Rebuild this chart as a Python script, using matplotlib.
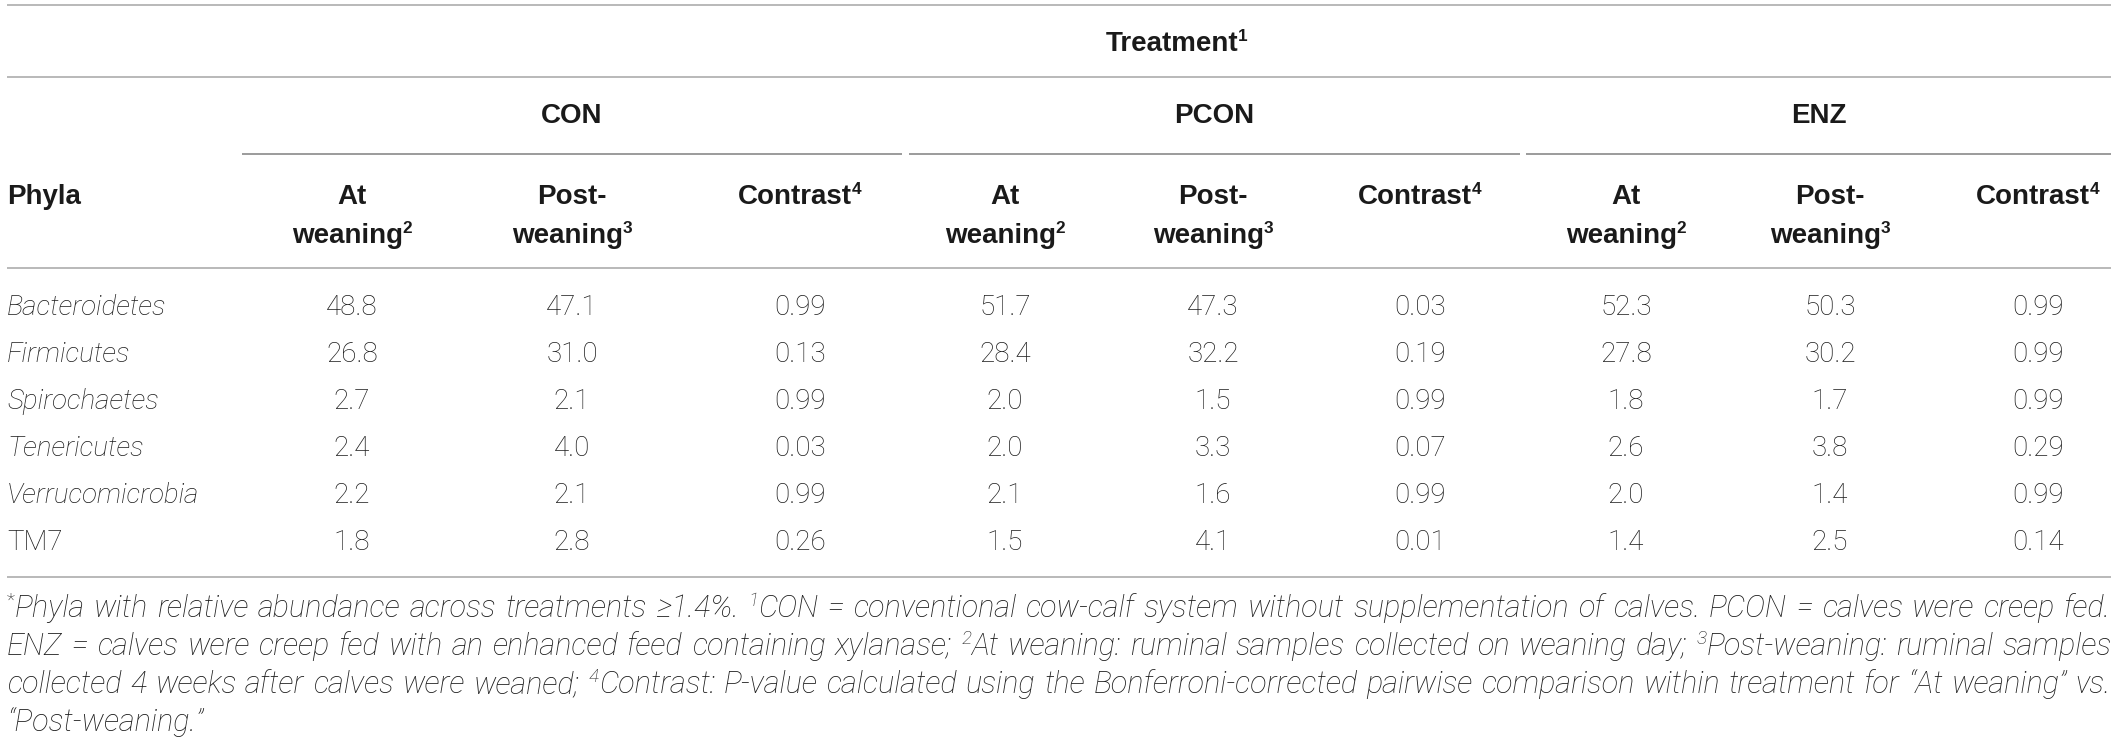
import matplotlib
matplotlib.use("Agg")
import matplotlib.pyplot as plt
from matplotlib import font_manager

W, H = 2118, 742

phyla = ["Bacteroidetes", "Firmicutes", "Spirochaetes", "Tenericutes", "Verrucomicrobia", "TM7"]
phyla_italic = [True, True, True, True, True, False]
treatments = ["CON", "PCON", "ENZ"]

con_at = [48.8, 26.8, 2.7, 2.4, 2.2, 1.8]
con_post = [47.1, 31.0, 2.1, 4.0, 2.1, 2.8]
con_p = [0.99, 0.13, 0.99, 0.03, 0.99, 0.26]
pcon_at = [51.7, 28.4, 2.0, 2.0, 2.1, 1.5]
pcon_post = [47.3, 32.2, 1.5, 3.3, 1.6, 4.1]
pcon_p = [0.03, 0.19, 0.99, 0.07, 0.99, 0.01]
enz_at = [52.3, 27.8, 1.8, 2.6, 2.0, 1.4]
enz_post = [50.3, 30.2, 1.7, 3.8, 1.4, 2.5]
enz_p = [0.99, 0.99, 0.99, 0.29, 0.99, 0.14]

# footnote text, "^n" marks a superscript glued to the next word
footnote = [
    "^*Phyla with relative abundance across treatments \u22651.4%. ^1CON = conventional cow-calf system without supplementation of calves. PCON = calves were creep fed.",
    "ENZ = calves were creep fed with an enhanced feed containing xylanase; ^2At weaning: ruminal samples collected on weaning day; ^3Post-weaning: ruminal samples",
    "collected 4 weeks after calves were weaned; ^4Contrast: P-value calculated using the Bonferroni-corrected pairwise comparison within treatment for \u201cAt weaning\u201d vs.",
    "\u201cPost-weaning.\u201d",
]


def installed(family):
    return any(f.name == family for f in font_manager.fontManager.ttflist)


def has_light(family):
    return any(f.name == family and f.weight in (300, "light") for f in font_manager.fontManager.ttflist)


LIGHT_FAM = "Roboto" if has_light("Roboto") else "Liberation Sans"
NOTE_FAM = "Liberation Sans Narrow" if installed("Liberation Sans Narrow") else LIGHT_FAM

BOLD = dict(family="Liberation Sans", fontweight="bold", color="#1a1a1a", fontsize=20)
DATA = dict(family=LIGHT_FAM, fontweight="light", color="#1c1c1c", fontsize=20)
NOTE = dict(family=NOTE_FAM, fontweight="light", style="italic", color="#1c1c1c", fontsize=18)

RULE = "#b3b3b3"
GROUP_RULE = "#8a8a8a"

X0, X1 = 7, 2111
col_x = [352, 572, 800, 1005, 1213, 1420, 1626, 1830, 2038]
group_span = [(242, 902), (909, 1520), (1526, 2111)]

fig = plt.figure(figsize=(W / 100, H / 100), dpi=100)
ax = fig.add_axes([0, 0, 1, 1])
ax.set_xlim(0, W)
ax.set_ylim(H, 0)
ax.axis("off")
renderer = fig.canvas.get_renderer()


def width_of(s, props):
    t = ax.text(0, 0, s, **props)
    w = t.get_window_extent(renderer).width
    t.remove()
    return w


def sup_props(props):
    p = dict(props)
    p["fontsize"] = props["fontsize"] * 0.62
    return p


def text_sup(x, y, main, sup, props, ha="center"):
    wm = width_of(main, props)
    ws = width_of(sup, sup_props(props)) if sup else 0
    left = x - (wm + ws) / 2 if ha == "center" else x
    ax.text(left, y, main, ha="left", va="baseline", **props)
    if sup:
        ax.text(left + wm, y - props["fontsize"] * 0.5, sup, ha="left", va="baseline", **sup_props(props))


def hrule(y, x0=X0, x1=X1, color=RULE, lw=1.3):
    ax.plot([x0, x1], [y, y], color=color, lw=lw, solid_capstyle="butt")


# rules
hrule(5)
hrule(77)
for a, b in group_span:
    hrule(154, a, b, color=GROUP_RULE, lw=1.2)
hrule(268)
hrule(577)

# header
text_sup((group_span[0][0] + group_span[2][1]) / 2, 51, "Treatment", "1", BOLD)
for name, (a, b) in zip(treatments, group_span):
    ax.text((a + b) / 2, 123, name, ha="center", va="baseline", **BOLD)

ax.text(X0, 204, "Phyla", ha="left", va="baseline", **BOLD)
for g in range(3):
    xa, xp, xc = col_x[3 * g:3 * g + 3]
    ax.text(xa, 204, "At", ha="center", va="baseline", **BOLD)
    text_sup(xa, 243, "weaning", "2", BOLD)
    ax.text(xp, 204, "Post-", ha="center", va="baseline", **BOLD)
    text_sup(xp, 243, "weaning", "3", BOLD)
    text_sup(xc, 204, "Contrast", "4", BOLD)

# body
columns = [con_at, con_post, con_p, pcon_at, pcon_post, pcon_p, enz_at, enz_post, enz_p]
for i, name in enumerate(phyla):
    y = 315 + 47 * i
    p = dict(DATA)
    if phyla_italic[i]:
        p["style"] = "italic"
    ax.text(X0, y, name, ha="left", va="baseline", **p)
    for j, vals in enumerate(columns):
        s = f"{vals[i]:.2f}" if j % 3 == 2 else f"{vals[i]:.1f}"
        ax.text(col_x[j], y, s, ha="center", va="baseline", **DATA)


# footnote, justified
def parse_word(w):
    if w.startswith("^"):
        return w[1], w[2:]
    return "", w


def word_width(sup, main, props):
    ws = width_of(sup, sup_props(props)) if sup else 0
    return ws + width_of(main, props)


# size the footnote so its widest line fills the width with normal spaces
probe = max(footnote[:-1], key=len)
nat = sum(word_width(*parse_word(w), NOTE) for w in probe.split(" "))
nat += (len(probe.split(" ")) - 1) * (width_of("a a", NOTE) - width_of("aa", NOTE))
NOTE["fontsize"] = min(23, NOTE["fontsize"] * (X1 - X0) * 0.985 / nat)

space_w = width_of("a a", NOTE) - width_of("aa", NOTE)
for k, line in enumerate(footnote):
    y = 617 + 38 * k
    words = [parse_word(w) for w in line.split(" ")]
    widths = [word_width(sup, main, NOTE) for sup, main in words]
    if k < len(footnote) - 1 and len(words) > 1:
        gap = (X1 - X0 - sum(widths)) / (len(words) - 1)
    else:
        gap = space_w
    x = X0
    for (sup, main), w in zip(words, widths):
        if sup:
            sp = sup_props(NOTE)
            if sup == "*":
                sp["style"] = "normal"
            ax.text(x, y - NOTE["fontsize"] * 0.5, sup, ha="left", va="baseline", **sp)
            x_main = x + width_of(sup, sp)
        else:
            x_main = x
        ax.text(x_main, y, main, ha="left", va="baseline", **NOTE)
        x += w + gap

fig.savefig("out.png", dpi=100, facecolor="white")
